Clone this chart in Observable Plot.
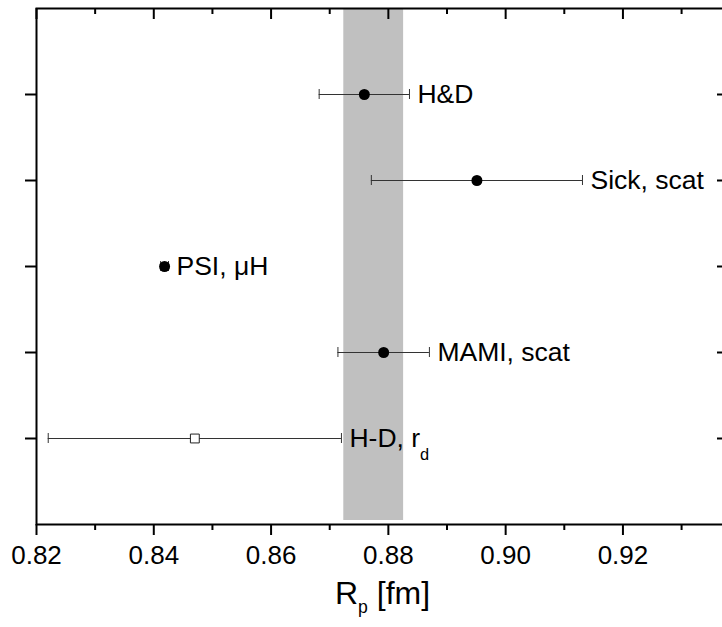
<!DOCTYPE html>
<html>
<head>
<meta charset="utf-8">
<script src="https://cdn.jsdelivr.net/npm/d3@7"></script>
<script src="https://cdn.jsdelivr.net/npm/@observablehq/plot@0.6"></script>
<style>
  html, body { margin: 0; padding: 0; background: #fff; }
  #chart svg { display: block; overflow: hidden; }
</style>
</head>
<body>
<div id="chart"></div>
<script>
// ---- data ----
const labels  = ["H&D", "Sick, scat", "PSI, μH", "MAMI, scat", "H-D, r_d"];
const rows    = [5, 4, 3, 2, 1];
const values  = [0.8759, 0.8951, 0.84184, 0.8792, 0.8470];
const errors  = [0.0077, 0.0180, 0.00067, 0.0078, 0.0250];
const markers = ["dot", "dot", "dot", "dot", "square"];
const bandCenter = 0.8775;
const bandHalfWidth = 0.0051;
const xMajorTicks = [0.82, 0.84, 0.86, 0.88, 0.90, 0.92];
const xMinorTicks = [0.83, 0.85, 0.87, 0.89, 0.91, 0.93];
const yTicks = [1, 2, 3, 4, 5];
const xTitle = "R_p [fm]";

// ---- tables built from the arrays ----
const data = labels.map((label, i) => ({
  label, row: rows[i], value: values[i],
  lo: values[i] - errors[i], hi: values[i] + errors[i], marker: markers[i]
}));
const band = [{lo: bandCenter - bandHalfWidth, hi: bandCenter + bandHalfWidth}];

// ---- layout ----
const W = 722, H = 627;
const mL = 36, mR = -6, mT = 8, mB = 103;
const frameW = W - mL - mR, frameH = H - mT - mB;
const FONT = "'Liberation Sans', Arial, Helvetica, sans-serif";
const LABEL_SIZE = 26.5, TICK_SIZE = 26, TITLE_SIZE = 32;
const capHalf = 5 / (frameH / 6);

const svg = Plot.plot({
  width: W, height: H,
  marginLeft: mL, marginRight: mR, marginTop: mT, marginBottom: mB,
  style: {fontFamily: FONT, background: "white", color: "black", overflow: "hidden"},
  x: {domain: [0.82, 0.938]},
  y: {domain: [0, 6], axis: null},
  marks: [
    Plot.rect(band, {x1: "lo", x2: "hi", fill: "#c0c0c0", insetBottom: 4}),
    Plot.frame({stroke: "black", strokeWidth: 2}),
    // bottom axis: labelled major ticks + minor ticks (outward)
    Plot.axisX({anchor: "bottom", ticks: xMajorTicks, tickSize: 11, tickPadding: 10,
      tickFormat: d3.format(".2f"), fontSize: TICK_SIZE, strokeWidth: 2, label: null}),
    Plot.ruleX(xMinorTicks, {x: d => d, insetTop: frameH, insetBottom: -6, strokeWidth: 2}),
    // top axis: inward ticks
    Plot.ruleX(xMajorTicks, {x: d => d, insetBottom: frameH - 11, strokeWidth: 2}),
    Plot.ruleX(xMinorTicks, {x: d => d, insetBottom: frameH - 6, strokeWidth: 2}),
    // left axis: outward ticks, right axis: inward ticks
    Plot.ruleY(yTicks, {y: d => d, insetLeft: -11, insetRight: frameW, strokeWidth: 2}),
    Plot.ruleY(yTicks, {y: d => d, insetLeft: frameW - 11, strokeWidth: 2}),
    // error bars
    Plot.ruleY(data, {y: "row", x1: "lo", x2: "hi", stroke: "#333", strokeWidth: 1}),
    Plot.ruleX(data, {x: "lo", y1: d => d.row - capHalf, y2: d => d.row + capHalf, stroke: "#333", strokeWidth: 1}),
    Plot.ruleX(data, {x: "hi", y1: d => d.row - capHalf, y2: d => d.row + capHalf, stroke: "#333", strokeWidth: 1}),
    // points
    Plot.dot(data.filter(d => d.marker === "dot"), {x: "value", y: "row", r: 5.5, fill: "black", stroke: "none"}),
    Plot.dot(data.filter(d => d.marker === "square"), {x: "value", y: "row", symbol: "square", r: 5, fill: "white", stroke: "#222", strokeWidth: 1}),
    // labels
    Plot.text(data, {x: "hi", y: "row", text: "label", textAnchor: "start", dx: 8, fontSize: LABEL_SIZE, fill: "black"}),
    // axis title
    Plot.text([xTitle], {frameAnchor: "bottom", dy: 79, fontSize: TITLE_SIZE, fill: "black", text: d => d})
  ]
});

// turn "a_b rest" into real subscript tspans
function subscriptify(el, size, subScale, shiftEm) {
  const t = el.textContent;
  const i = t.indexOf("_");
  if (i < 0) return;
  const before = t.slice(0, i), sub = t[i + 1], after = t.slice(i + 2);
  const ns = "http://www.w3.org/2000/svg";
  while (el.firstChild) el.removeChild(el.firstChild);
  const shift = size * shiftEm;
  const a = document.createElementNS(ns, "tspan"); a.textContent = before; el.appendChild(a);
  const b = document.createElementNS(ns, "tspan");
  b.textContent = sub; b.setAttribute("font-size", (size * subScale).toFixed(1));
  b.setAttribute("dy", shift.toFixed(1)); el.appendChild(b);
  if (after) {
    const c = document.createElementNS(ns, "tspan");
    c.textContent = after; c.setAttribute("dy", (-shift).toFixed(1)); el.appendChild(c);
  }
}
d3.select(svg).selectAll("text").each(function () {
  const t = this.textContent;
  if (!t.includes("_")) return;
  if (t === xTitle) subscriptify(this, TITLE_SIZE, 0.55, 0.28);
  else subscriptify(this, LABEL_SIZE, 0.62, 0.5);
});

document.getElementById("chart").appendChild(svg);
</script>
</body>
</html>
